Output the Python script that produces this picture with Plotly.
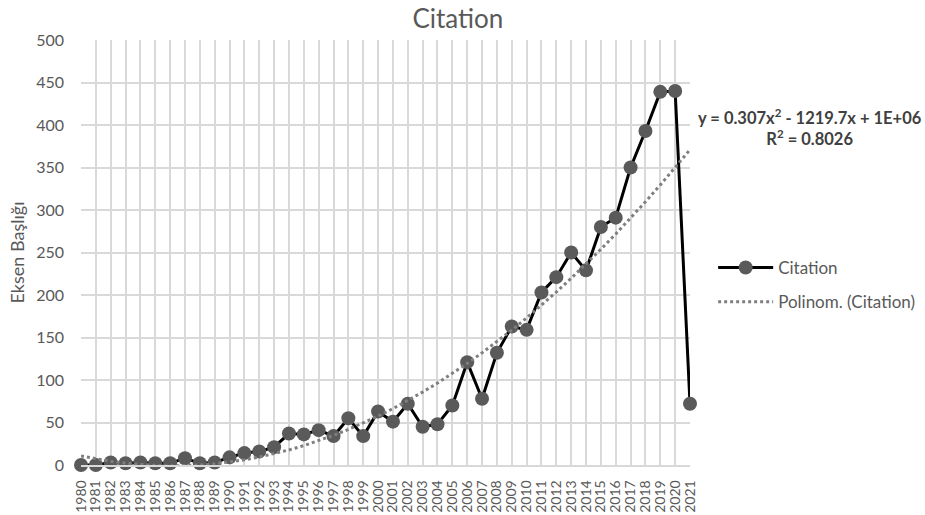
import numpy as np
import plotly.graph_objects as go

years = list(range(1980, 2022))
citations = [0, 0, 3, 2, 3, 2, 2, 8, 2, 3,
             9, 14, 16, 21, 37, 36, 41, 34, 55, 34,
             63, 51, 72, 45, 48, 70, 121, 78, 132, 163,
             159, 203, 221, 250, 229, 280, 291, 350, 393, 439,
             440, 72]
y_ticks = list(range(0, 501, 50))

# second-order polynomial trendline fitted to the series (as in the source chart)
coef = np.polyfit(years, citations, 2)
trend = np.polyval(coef, years)

FONT = "Lato"
GREY = "#595959"

fig = go.Figure()
fig.add_trace(go.Scatter(
    x=years, y=citations, name="Citation", mode="lines+markers",
    line=dict(color="#000000", width=3),
    marker=dict(color="#5a5a5a", size=14),
    cliponaxis=False, legendgroup="a",
))
fig.add_trace(go.Scatter(
    x=years, y=trend, name="Polinom. (Citation)", mode="lines",
    line=dict(color="#7f7f7f", width=3, dash="dot"), legendgroup="b",
))

fig.update_layout(
    width=925, height=515,
    margin=dict(l=81, r=235, t=40, b=50, autoexpand=False),
    paper_bgcolor="white", plot_bgcolor="white",
    font=dict(family=FONT, color=GREY, size=16),
    title=dict(text="Citation", x=0.495, xanchor="center", y=0.963, yanchor="middle",
               font=dict(size=26, color=GREY, family=FONT)),
    legend=dict(x=1.038, xanchor="left", y=0.4235, yanchor="middle",
                font=dict(size=17, color=GREY, family=FONT),
                itemwidth=55, tracegroupgap=9, bgcolor="rgba(0,0,0,0)"),
    showlegend=True,
)
fig.update_xaxes(
    range=[1980, 2021], tickmode="array", tickvals=years,
    ticktext=[str(y) for y in years], tickangle=-90,
    tickfont=dict(size=14, color=GREY, family=FONT),
    showgrid=True, gridcolor="#d9d9d9", gridwidth=1.5,
    showline=True, linecolor="#d9d9d9", linewidth=1.5,
    ticks="", ticklabelstandoff=8, zeroline=False, automargin=False,
)
fig.update_yaxes(
    range=[0, 500], tickmode="array", tickvals=y_ticks,
    tickfont=dict(size=16, color=GREY, family=FONT),
    showgrid=True, gridcolor="#d9d9d9", gridwidth=1.5,
    showline=False, zeroline=False, ticks="", ticklabelstandoff=16,
    title=dict(text="Eksen Başlığı", font=dict(size=18, color=GREY, family=FONT), standoff=6),
    automargin=False,
)
fig.add_annotation(
    xref="paper", yref="paper", x=1.197, y=0.795, xanchor="center", yanchor="middle",
    text="<b>y = 0.307x<sup>2</sup> - 1219.7x + 1E+06<br>R<sup>2</sup> = 0.8026</b>",
    showarrow=False, align="center",
    font=dict(size=16.5, color="#404040", family=FONT),
)

fig.write_html(
    "out.html",
    config={"displayModeBar": False},
    post_script="document.body.style.margin='0';document.body.style.overflow='hidden';",
)
